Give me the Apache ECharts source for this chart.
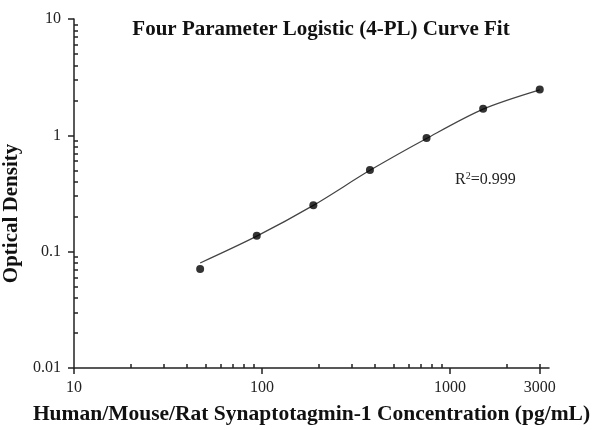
<!DOCTYPE html>
<html>
<head>
<meta charset="utf-8">
<script src="https://cdn.jsdelivr.net/npm/echarts@6/dist/echarts.min.js"></script>
<style>
  html, body { margin: 0; padding: 0; background: #fff; }
  #chart { width: 599px; height: 430px; }
</style>
</head>
<body>
<div id="chart"></div>
<script>
// standard points (pg/mL) and measured OD
const concentrations = [46.875, 93.75, 187.5, 375, 750, 1500, 3000];
const odValues = [0.071, 0.137, 0.251, 0.504, 0.948, 1.69, 2.48];

// fitted 4-PL curve
const fitX = [46.875, 93.75, 187.5, 375, 750, 1500, 3000];
const fitY = [0.080, 0.136, 0.250, 0.500, 0.940, 1.680, 2.460];

// tick labels
const xMajorTicks = [10, 100, 1000, 3000];
const xMinorTicks = [20, 30, 40, 50, 60, 70, 80, 90, 200, 300, 400, 500, 600, 700, 800, 900, 2000, 3000];
const yMajorTicks = [0.01, 0.1, 1, 10];
const yMinorTicks = [
  0.02, 0.03, 0.04, 0.05, 0.06, 0.07, 0.08, 0.09,
  0.2, 0.3, 0.4, 0.5, 0.6, 0.7, 0.8, 0.9,
  2, 3, 4, 5, 6, 7, 8, 9
];

const serif = '"Liberation Serif", "DejaVu Serif", serif';
const axisColor = '#222';

// plain number, no thousands separator
function plainNum(v) {
  return String(+Number(v).toPrecision(4));
}

let myChart = echarts.init(document.getElementById('chart'));

let options = {
  animation: false,
  backgroundColor: '#fff',
  title: {
    text: 'Four Parameter Logistic (4-PL) Curve Fit',
    left: 316,
    top: 14,
    textAlign: 'center',
    textStyle: {
      fontFamily: serif,
      fontWeight: 'bold',
      fontSize: 21,
      color: '#111'
    }
  },
  grid: {
    left: 74,
    right: 50,
    top: 19,
    bottom: 62,
    containLabel: false,
    outerBoundsMode: 'none'
  },
  xAxis: [
    {
      type: 'log',
      logBase: 10,
      min: 10,
      max: 3360,
      position: 'bottom',
      name: 'Human/Mouse/Rat Synaptotagmin-1 Concentration (pg/mL)',
      nameLocation: 'middle',
      nameGap: 35,
      nameTextStyle: {
        fontFamily: serif,
        fontWeight: 'bold',
        fontSize: 21.5,
        color: '#111'
      },
      axisLine: { show: true, lineStyle: { color: axisColor, width: 1.5 } },
      axisTick: {
        show: true,
        inside: false,
        length: 6,
        customValues: xMajorTicks,
        lineStyle: { color: axisColor, width: 1.5 }
      },
      axisLabel: {
        customValues: xMajorTicks,
        margin: 12,
        fontFamily: serif,
        fontSize: 16,
        color: '#222',
        formatter: plainNum
      },
      splitLine: { show: false },
      minorTick: { show: false }
    },
    {
      type: 'log',
      logBase: 10,
      min: 10,
      max: 3360,
      position: 'bottom',
      axisLine: { show: false },
      axisTick: {
        show: true,
        inside: true,
        length: 4,
        customValues: xMinorTicks,
        lineStyle: { color: axisColor, width: 1.5 }
      },
      axisLabel: { show: false },
      splitLine: { show: false }
    }
  ],
  yAxis: [
    {
      type: 'log',
      logBase: 10,
      min: 0.01,
      max: 10,
      position: 'left',
      name: 'Optical Density',
      nameLocation: 'middle',
      nameGap: 44,
      nameTextStyle: {
        fontFamily: serif,
        fontWeight: 'bold',
        fontSize: 21,
        color: '#111',
        padding: [0, 40, 0, 0]
      },
      axisLine: { show: true, lineStyle: { color: axisColor, width: 1.5 } },
      axisTick: {
        show: true,
        inside: false,
        length: 6,
        customValues: yMajorTicks,
        lineStyle: { color: axisColor, width: 1.5 }
      },
      axisLabel: {
        customValues: yMajorTicks,
        margin: 13,
        fontFamily: serif,
        fontSize: 16,
        color: '#222',
        formatter: plainNum
      },
      splitLine: { show: false }
    },
    {
      type: 'log',
      logBase: 10,
      min: 0.01,
      max: 10,
      position: 'left',
      axisLine: { show: false },
      axisTick: {
        show: true,
        inside: true,
        length: 4,
        customValues: yMinorTicks,
        lineStyle: { color: axisColor, width: 1.5 }
      },
      axisLabel: { show: false },
      splitLine: { show: false }
    }
  ],
  series: [
    {
      name: '4-PL fit',
      type: 'line',
      xAxisIndex: 0,
      yAxisIndex: 0,
      data: fitX.map((x, i) => [x, fitY[i]]),
      smooth: 0.3,
      showSymbol: false,
      lineStyle: { color: '#444', width: 1.2 },
      z: 2
    },
    {
      name: 'Standards',
      type: 'scatter',
      xAxisIndex: 0,
      yAxisIndex: 0,
      data: concentrations.map((x, i) => [x, odValues[i]]),
      symbol: 'circle',
      symbolSize: 8,
      itemStyle: { color: '#000' },
      z: 3
    }
  ],
  graphic: [
    {
      type: 'text',
      left: 455,
      top: 171,
      style: {
        text: '{r|R}{s|2}{r|=0.999}',
        rich: {
          r: { fontFamily: serif, fontSize: 16, fill: '#222', color: '#222' },
          s: { fontFamily: serif, fontSize: 10, fill: '#222', color: '#222', verticalAlign: 'top', padding: [0, 0, 8, 0] }
        }
      }
    }
  ]
};

myChart.setOption(options);
</script>
</body>
</html>
